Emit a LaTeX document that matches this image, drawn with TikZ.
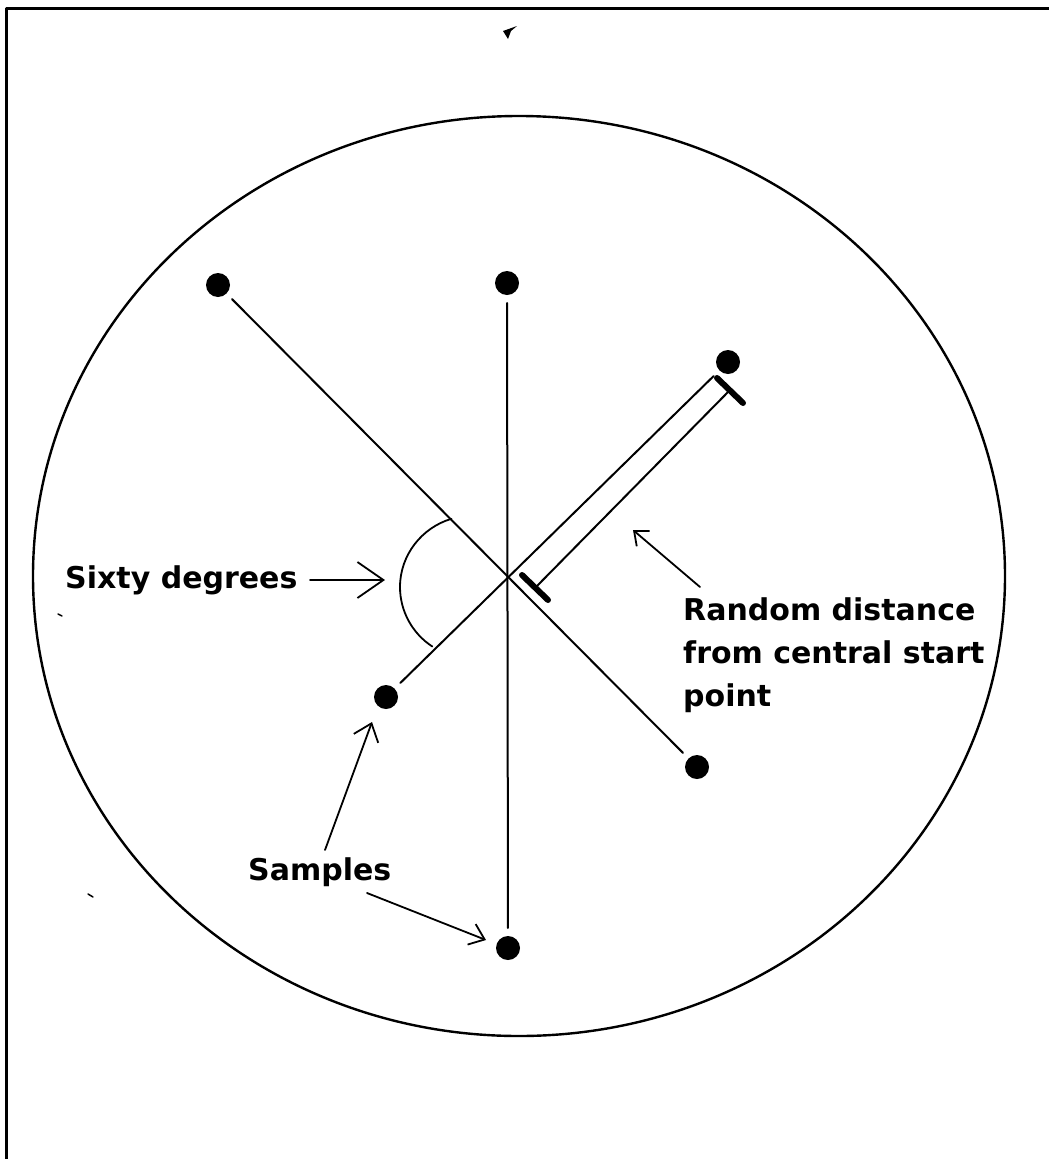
\documentclass[tikz,border=0pt]{standalone}
\usepackage{fontspec}
\setmainfont{DejaVu Sans}
\usetikzlibrary{arrows.meta}
\begin{document}
\begin{tikzpicture}[x=1pt,y=-1pt,
  line cap=round, line join=round,
  dot/.style={circle, fill=black, minimum size=24pt, inner sep=0pt, outer sep=8pt},
  ray/.style={line width=2pt},
  lbl/.style={font=\bfseries\fontsize{30}{43}\selectfont, inner sep=0pt, text=black},
  pointer/.style={line width=1.8pt},
]
\useasboundingbox (0,0) rectangle (1049,1159);
% frame (top and left edges)
\draw[line width=3pt] (1049,8) -- (6,8) -- (6,1159);
% scan mark at top
\fill (503,31) -- (517,26) -- (511,31) -- (508,39) -- cycle;
% specks
\draw[line width=1.5pt] (58,614) -- (62,616);
\draw[line width=1.5pt] (88,894) -- (93,897);
% outer circle
\draw[line width=2.4pt] (519,576) ellipse [x radius=486, y radius=460];
% centre and sample points
\coordinate (C) at (508,575);
\node[dot] (A) at (218,285) {};
\node[dot] (B) at (507,283) {};
\node[dot] (D) at (728,362) {};
\node[dot] (E) at (386,697) {};
\node[dot] (F) at (697,767) {};
\node[dot] (G) at (508,948) {};
% rays
\draw[ray] (A) -- (F);
\draw[ray] (B) -- (G);
\draw[ray] (E) -- (D);
% distance marker
\coordinate (m1) at (730,390);
\coordinate (m2) at (535,588);
\coordinate (t1a) at (717,378);
\coordinate (t1b) at (743,403);
\coordinate (t2a) at (522,575);
\coordinate (t2b) at (548,600);
\draw[ray] (m1) -- (m2);
\draw[line width=6pt] (t1a) -- (t1b);
\draw[line width=6pt] (t2a) -- (t2b);
% sixty degree arc
\coordinate (a1) at (451.4,518.8);
\coordinate (a2) at (400,587);
\coordinate (a3) at (432.3,646.5);
\draw[line width=1.8pt] (a1) .. controls (421.5,527.7) and (400,555.3) .. (a2)
  .. controls (400,611) and (412.2,633.4) .. (a3);
% labels
\node[lbl, anchor=base west] (sixty) at (65,588) {Sixty degrees};
\node[lbl, anchor=base west, align=left] (rand) at (683,706) {Random distance\\from central start\\point};
\node[lbl, anchor=base west] (samp) at (248,880) {Samples};
% pointers
\coordinate (s1) at (310,580);
\coordinate (s2) at (385,580);
\draw[pointer, -{Straight Barb[length=26pt,width=36pt,line width=1.8pt]}] (s1) -- (s2);
\coordinate (r1) at (700,587);
\coordinate (r2) at (633,530);
\draw[pointer, -{Straight Barb[length=12pt,width=20pt,line width=1.8pt]}] (r1) -- (r2);
\coordinate (p1) at (325,850);
\coordinate (p2) at (372,722);
\draw[pointer, -{Straight Barb[length=16pt,width=26pt,line width=1.8pt]}] (p1) -- (p2);
\coordinate (q1) at (367,893);
\coordinate (q2) at (486,940);
\draw[pointer, -{Straight Barb[length=14pt,width=22pt,line width=1.8pt]}] (q1) -- (q2);
\end{tikzpicture}
\end{document}
